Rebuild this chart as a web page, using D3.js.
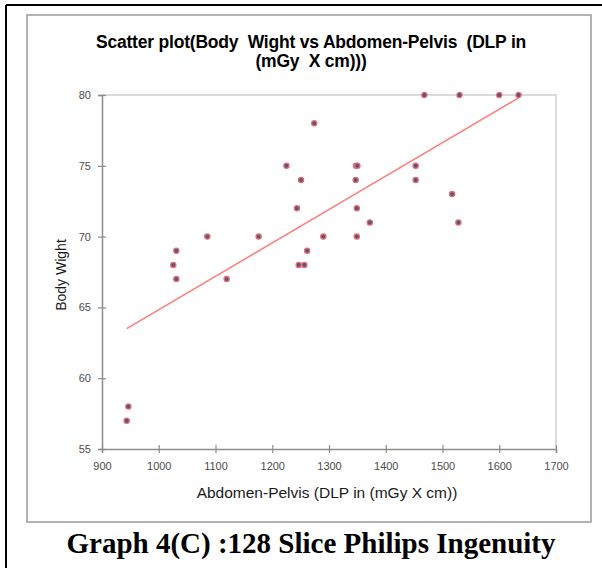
<!DOCTYPE html>
<html>
<head>
<meta charset="utf-8">
<script src="https://cdn.jsdelivr.net/npm/d3@7"></script>
<style>
  body { margin: 0; background: #fff; }
  svg { display: block; }
  text { white-space: pre; }
</style>
</head>
<body>
<div id="chart"></div>
<script>
// values
var dlp = [943.5, 946.5, 1025.6, 1031, 1031, 1085.6, 1119.7, 1176, 1225, 1243.5,
    1250.7, 1246.6, 1256.5, 1261.5, 1274, 1290, 1347.6, 1350, 1347, 1349,
    1349, 1372, 1452.7, 1452.7, 1468, 1517, 1528, 1530, 1600, 1634];
var weight = [57, 58, 68, 69, 67, 70, 67, 70, 75, 72,
    74, 68, 68, 69, 78, 70, 75, 75, 74, 72,
    70, 71, 75, 74, 80, 73, 71, 80, 80, 80];
var trendX = [943.5, 1634];
var trendY = [63.5, 79.8];
var xTicks = [900, 1000, 1100, 1200, 1300, 1400, 1500, 1600, 1700];
var yTicks = [55, 60, 65, 70, 75, 80];

var W = 602, H = 568;
var margin = {top: 95, right: 46, bottom: 119, left: 102},
    width = W - margin.left - margin.right,
    height = H - margin.top - margin.bottom;

var svg = d3.select("#chart")
    .append("svg")
    .attr("width", W)
    .attr("height", H);

// outer black frame (top and left edges visible)
svg.append("line").attr("x1", 6).attr("x2", W).attr("y1", 5).attr("y2", 5)
    .attr("stroke", "#000").attr("stroke-width", 2);
svg.append("line").attr("x1", 6).attr("x2", 6).attr("y1", 5).attr("y2", H)
    .attr("stroke", "#000").attr("stroke-width", 2);

// chart area box
svg.append("rect")
    .attr("x", 27).attr("y", 15)
    .attr("width", 564).attr("height", 507)
    .attr("fill", "#fff")
    .attr("stroke", "#9a9a9a")
    .attr("stroke-width", 1.5);

svg.append("text")
    .attr("x", 311).attr("y", 48)
    .attr("text-anchor", "middle")
    .style("font-family", "Liberation Sans, Arial, sans-serif")
    .style("font-weight", "bold")
    .style("font-size", "17.5px")
    .style("letter-spacing", "-0.2px")
    .attr("fill", "#000")
    .text("Scatter plot(Body  Wight vs Abdomen-Pelvis  (DLP in");
svg.append("text")
    .attr("x", 311).attr("y", 67)
    .attr("text-anchor", "middle")
    .style("font-family", "Liberation Sans, Arial, sans-serif")
    .style("font-weight", "bold")
    .style("font-size", "17.5px")
    .style("letter-spacing", "-0.2px")
    .attr("fill", "#000")
    .text("(mGy  X cm)))");

var g = svg.append("g")
    .attr("transform", "translate(" + margin.left + "," + margin.top + ")");

var x = d3.scaleLinear().domain([900, 1700]).range([0, width]);
var y = d3.scaleLinear().domain([55, 80]).range([height, 0]);

// plot area border (top and right)
g.append("path")
    .attr("d", "M0,0H" + width + "V" + height)
    .attr("fill", "none")
    .attr("stroke", "#d0d0d0")
    .attr("stroke-width", 1.5);

var xAxis = g.append("g")
    .attr("transform", "translate(0," + height + ")")
    .call(d3.axisBottom(x).tickValues(xTicks).tickFormat(d3.format("d")).tickSize(4).tickPadding(9));
var yAxis = g.append("g")
    .call(d3.axisLeft(y).tickValues(yTicks).tickSize(4).tickPadding(7));

[xAxis, yAxis].forEach(function(a) {
    a.select(".domain").attr("stroke", "#8c8c8c").attr("stroke-width", 1.5);
    a.selectAll(".tick line").attr("stroke", "#8c8c8c").attr("stroke-width", 1.2);
    a.selectAll(".tick text")
        .style("font-family", "Liberation Sans, Arial, sans-serif")
        .style("font-size", "11px")
        .attr("fill", "#4d4d4d");
});
xAxis.selectAll(".tick line").attr("y1", -4).attr("y2", 4);
yAxis.selectAll(".tick line").attr("x1", -4).attr("x2", 4);

// trend line
g.append("line")
    .attr("x1", x(trendX[0])).attr("y1", y(trendY[0]))
    .attr("x2", x(trendX[1])).attr("y2", y(trendY[1]))
    .attr("stroke", "#ff7b7b")
    .attr("stroke-width", 1.5);

// points
g.selectAll(".pt").data(dlp)
    .enter()
    .append("circle")
    .attr("class", "pt")
    .attr("cx", function(d) { return x(d); })
    .attr("cy", function(d, i) { return y(weight[i]); })
    .attr("r", 2.6)
    .attr("fill", "#525a7c")
    .attr("stroke", "#ee6a74")
    .attr("stroke-width", 1.3);

svg.append("text")
    .attr("x", 327).attr("y", 498)
    .attr("text-anchor", "middle")
    .style("font-family", "Liberation Sans, Arial, sans-serif")
    .style("font-size", "15.5px")
    .attr("fill", "#1a1a1a")
    .text("Abdomen-Pelvis (DLP in (mGy X cm))");

svg.append("text")
    .attr("transform", "translate(66," + (margin.top + height / 2 + 3) + ") rotate(-90)")
    .attr("text-anchor", "middle")
    .style("font-family", "Liberation Sans, Arial, sans-serif")
    .style("font-size", "14px")
    .attr("fill", "#1a1a1a")
    .text("Body Wight");

svg.append("text")
    .attr("x", 311).attr("y", 553)
    .attr("text-anchor", "middle")
    .style("font-family", "Liberation Serif, Times New Roman, serif")
    .style("font-weight", "bold")
    .style("font-size", "29px")
    .attr("fill", "#000")
    .text("Graph 4(C) :128 Slice Philips Ingenuity");
</script>
</body>
</html>
